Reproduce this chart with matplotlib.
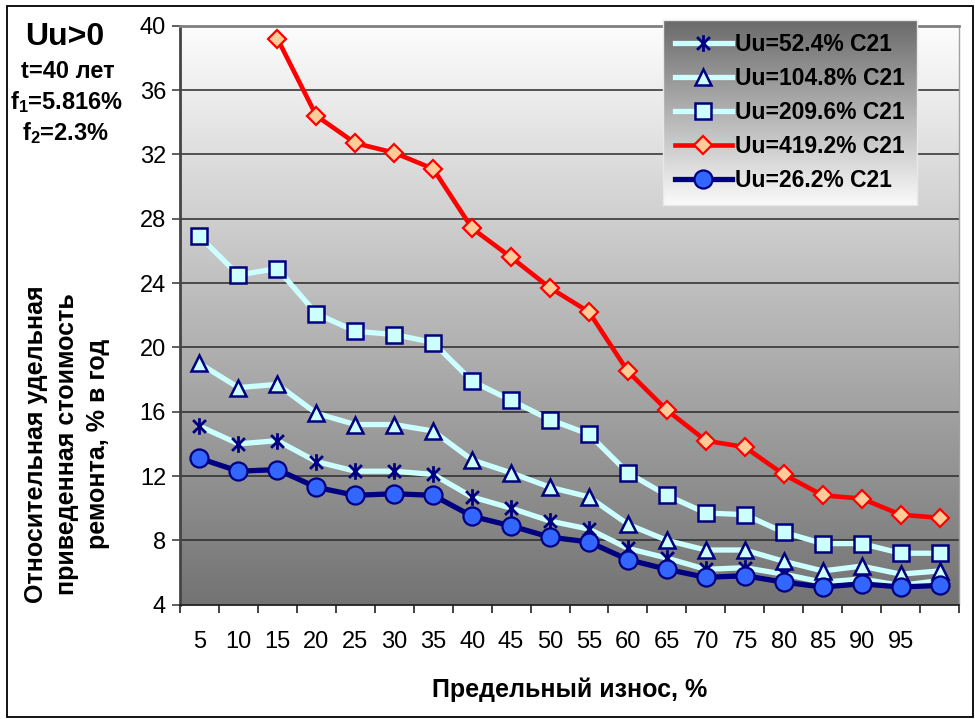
import numpy as np
import matplotlib
matplotlib.use("Agg")
import matplotlib.pyplot as plt
from matplotlib.path import Path
from matplotlib.colors import LinearSegmentedColormap
from matplotlib.patches import Rectangle

plt.rcParams['font.family'] = ['Liberation Sans', 'DejaVu Sans']
plt.rcParams['mathtext.fontset'] = 'custom'
plt.rcParams['mathtext.rm'] = 'Liberation Sans:bold'
plt.rcParams['mathtext.default'] = 'regular'

# ---- data -------------------------------------------------------------
categories = ['5', '10', '15', '20', '25', '30', '35', '40', '45', '50',
              '55', '60', '65', '70', '75', '80', '85', '90', '95', '']
nan = np.nan
uu_52 = [15.1, 14.0, 14.2, 12.9, 12.3, 12.3, 12.1, 10.7, 10.0, 9.2,
         8.7, 7.5, 6.9, 6.2, 6.3, 5.9, 5.4, 5.6, 5.2, 5.5]
uu_105 = [19.0, 17.5, 17.7, 15.9, 15.2, 15.2, 14.8, 13.0, 12.2, 11.3,
          10.7, 9.0, 8.0, 7.4, 7.4, 6.7, 6.1, 6.4, 5.9, 6.1]
uu_210 = [26.9, 24.5, 24.9, 22.1, 21.0, 20.8, 20.3, 17.9, 16.7, 15.5,
          14.6, 12.2, 10.8, 9.7, 9.6, 8.5, 7.8, 7.8, 7.2, 7.2]
uu_419 = [nan, nan, 39.2, 34.4, 32.7, 32.1, 31.1, 27.4, 25.6, 23.7,
          22.2, 18.5, 16.1, 14.2, 13.8, 12.1, 10.8, 10.6, 9.6, 9.4]
uu_26 = [13.1, 12.3, 12.4, 11.3, 10.8, 10.9, 10.8, 9.5, 8.9, 8.2,
         7.9, 6.8, 6.2, 5.7, 5.8, 5.4, 5.1, 5.3, 5.1, 5.2]
y_ticks = [4, 8, 12, 16, 20, 24, 28, 32, 36, 40]
labels = ['Uu=52.4% C21', 'Uu=104.8% C21', 'Uu=209.6% C21',
          'Uu=419.2% C21', 'Uu=26.2% C21']

# ---- figure -----------------------------------------------------------
W, H = 975, 719
fig = plt.figure(figsize=(W / 100, H / 100), dpi=100)
fig.patch.set_facecolor('white')

def fx(px):
    return px / W

def fy(py):
    return 1 - py / H

ax = fig.add_axes([fx(180), fy(604.7), fx(959) - fx(180), fy(25.7) - fy(604.7)])
x = np.arange(len(categories))

# plot-area gradient: light at the top, dark grey at the bottom
bg = LinearSegmentedColormap.from_list('bg', ['#737373', '#fdfdfd'])
ax.imshow(np.linspace(0, 1, 256).reshape(-1, 1), cmap=bg, origin='lower',
          extent=(-0.5, len(categories) - 0.5, 4, 40), aspect='auto', zorder=0)

for yv in y_ticks[1:-1]:
    ax.axhline(yv, color='#2a2a2a', lw=1.1, zorder=1)

# star marker: an "x" crossed by a vertical stroke
star = Path([(-1, -1), (1, 1), (-1, 1), (1, -1), (0, -1.3), (0, 1.3)],
            [Path.MOVETO, Path.LINETO, Path.MOVETO, Path.LINETO,
             Path.MOVETO, Path.LINETO])

navy = '#000080'
cyan = '#ccffff'
h1, = ax.plot(x, uu_52, color=cyan, lw=3.8, marker=star, ms=12,
              mec=navy, mew=2.0, zorder=3)
h2, = ax.plot(x, uu_105, color=cyan, lw=3.8, marker='^', ms=12,
              mfc=cyan, mec=navy, mew=1.8, zorder=3)
h3, = ax.plot(x, uu_210, color=cyan, lw=3.8, marker='s', ms=11.5,
              mfc=cyan, mec=navy, mew=1.8, zorder=3)
h4, = ax.plot(x, uu_419, color='#ff0000', lw=3.3, marker='D', ms=9,
              mfc='#ffcc99', mec='#ff0000', mew=1.6, zorder=3)
h5, = ax.plot(x, uu_26, color=navy, lw=3.8, marker='o', ms=13,
              mfc='#3366ff', mec=navy, mew=1.6, zorder=4)

ax.set_xlim(-0.5, len(categories) - 0.5)
ax.set_ylim(4, 40)
ax.set_yticks(y_ticks)
ax.set_yticklabels([str(v) for v in y_ticks], fontsize=17)
ax.set_xticks(x)
ax.set_xticklabels(categories, fontsize=17)
ax.set_xticks(np.arange(-0.5, len(categories)), minor=True)
ax.tick_params(axis='x', which='major', length=0, pad=19)
ax.tick_params(axis='x', which='minor', length=6, width=1.2, color='#222222',
               direction='out')
ax.tick_params(axis='y', length=6, width=1.2, color='#444444', pad=4,
               direction='out')

ax.spines['left'].set_color('#444444')
ax.spines['left'].set_linewidth(2)
ax.spines['bottom'].set_color('#222222')
ax.spines['bottom'].set_linewidth(1.3)
ax.spines['top'].set_color('#808080')
ax.spines['top'].set_linewidth(2)
ax.spines['right'].set_color('#a0a0a0')
ax.spines['right'].set_linewidth(1)

# legend on its own gradient panel
lax = fig.add_axes([fx(663), fy(205), fx(917) - fx(663), fy(20) - fy(205)])
lg = LinearSegmentedColormap.from_list('lg', ['#fafafa', '#6a6a6a'])
lax.imshow(np.linspace(0, 1, 256).reshape(-1, 1), cmap=lg, origin='lower',
           extent=(0, 1, 0, 1), aspect='auto')
lax.set_xticks([])
lax.set_yticks([])
for s in lax.spines.values():
    s.set_color('#e8e8e8')
    s.set_linewidth(1)
lax.legend([h1, h2, h3, h4, h5], labels, loc='center', frameon=False,
           prop={'size': 16.5, 'weight': 'bold'}, handlelength=2.5,
           handletextpad=0.15, labelspacing=0.48, borderaxespad=0)

# annotations
fig.text(fx(65), fy(37), 'Uu>0', ha='center', va='center',
         fontsize=23, weight='bold')
fig.text(fx(68), fy(72), 't=40 лет', ha='center', va='center',
         fontsize=17, weight='bold')
fig.text(fx(67), fy(102), r'f$_1$=5.816%', ha='center', va='center',
         fontsize=17, weight='bold')
fig.text(fx(65), fy(133), r'f$_2$=2.3%', ha='center', va='center',
         fontsize=17, weight='bold')

fig.text(fx(67), fy(444),
         'Относительная удельная\nприведенная стоимость\nремонта, % в год',
         rotation=90, ha='center', va='center', multialignment='center',
         fontsize=18, weight='bold', linespacing=1.35)
fig.text(fx(570), fy(690), 'Предельный износ, %', ha='center', va='center',
         fontsize=18, weight='bold')

# outer frame
fig.add_artist(Rectangle((fx(7), fy(717)), fx(973) - fx(7), fy(6) - fy(717),
                         transform=fig.transFigure, fill=False,
                         edgecolor='black', lw=1.3))

fig.savefig('out.png', dpi=100)
